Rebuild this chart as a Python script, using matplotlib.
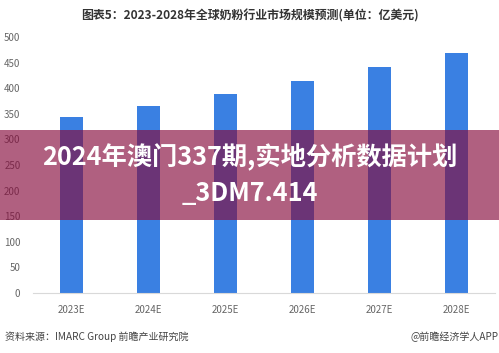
import matplotlib.pyplot as plt
from matplotlib.patches import Rectangle

plt.rcParams['font.family'] = ['Noto Sans CJK SC', 'DejaVu Sans']

# data
years = ['2023E', '2024E', '2025E', '2026E', '2027E', '2028E']
market_size = [344, 365, 389, 415, 441, 469]
y_ticks = [0, 50, 100, 150, 200, 250, 300, 350, 400, 450, 500]

title = '图表5：2023-2028年全球奶粉行业市场规模预测(单位：亿美元)'
source = '资料来源：IMARC Group 前瞻产业研究院'
credit = '@前瞻经济学人APP'
banner = '2024年澳门337期,实地分析数据计划\n_3DM7.414'

fig = plt.figure(figsize=(4.99, 3.53), dpi=100)
ax = fig.add_axes([0.066, 0.170, 0.926, 0.725])

x = range(len(years))
ax.bar(x, market_size, width=0.31, color='#3a80e2', zorder=2)

ax.set_xlim(-0.5, len(years) - 0.5)
ax.set_ylim(0, 500)
ax.set_yticks(y_ticks)
ax.set_xticks(list(x))
ax.set_xticklabels(years)
ax.tick_params(axis='both', length=0, labelsize=7, colors='#666666')
ax.tick_params(axis='y', pad=9)
ax.tick_params(axis='x', pad=9)
for s in ['top', 'right', 'left']:
    ax.spines[s].set_visible(False)
ax.spines['bottom'].set_color('#d9d9d9')

fig.text(0.50, 0.955, title, ha='center', va='center', fontsize=8.6,
         fontweight='bold', color='#333333')
fig.text(0.010, 0.045, source, ha='left', va='center', fontsize=7.2, color='#444444')
fig.text(0.999, 0.045, credit, ha='right', va='center', fontsize=7.2, color='#444444')

# overlay banner
fig.patches.append(Rectangle((0, 0.377), 1, 0.255, transform=fig.transFigure,
                             facecolor=(134/255, 11/255, 60/255), alpha=0.65,
                             edgecolor='none', zorder=5))
fig.text(0.5, 0.503, banner, ha='center', va='center', fontsize=18.2,
         fontweight='bold', color='white', linespacing=1.45, zorder=6)

fig.savefig('out.png', dpi=100)
